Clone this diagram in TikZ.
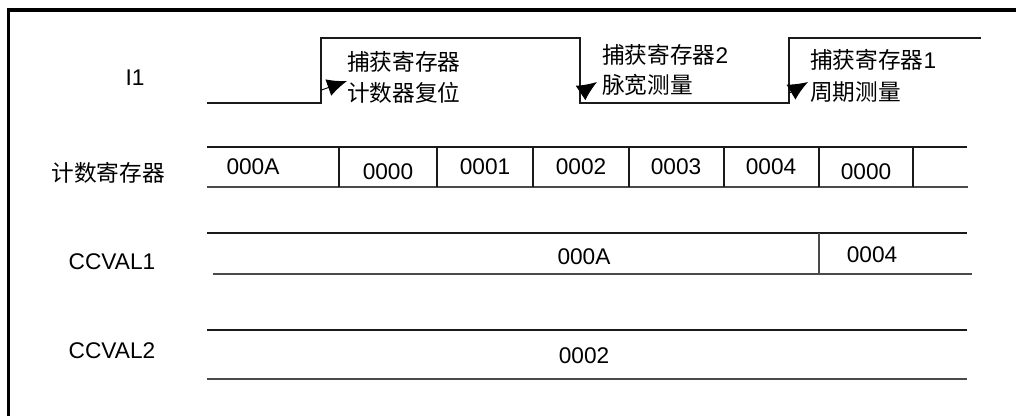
\documentclass[tikz,border=0pt]{standalone}
\usepackage{fontspec}
\setmainfont{Liberation Sans}
\newfontfamily\cjk{Noto Sans CJK SC}
\usetikzlibrary{arrows.meta}
\definecolor{capInk}{HTML}{1A1A1A}
\definecolor{capGray}{HTML}{4A4A4A}
\tikzset{
  cap frame/.style={draw=black, line width=2.3pt},
  cap wave/.style={draw=capInk, line width=0.9pt},
  cap rule/.style={draw=capInk, line width=0.9pt},
  cap bar/.style={draw=capGray, line width=1pt},
  cap pointer/.style={draw=black, line width=0.7pt, -{Latex[length=5.2mm, width=4.6mm]}},
  cap name/.style={font=\fontsize{17}{20}\selectfont, text=black, inner sep=0pt},
  cap value/.style={font=\fontsize{17}{20}\selectfont, text=black, inner sep=0pt},
  cap note/.style={font=\fontsize{17}{20}\selectfont, text=black, inner sep=0pt, anchor=west},
}

\begin{document}
\begin{tikzpicture}[x=0.75pt,y=-0.75pt]
  \useasboundingbox (0,0) rectangle (1016,416);
  % outer frame, only top and left edges are visible
  \draw[cap frame] (8.5,416) -- (8.5,10) -- (1016,10);

  % row titles
  \node[cap name] (i1) at (135,78) {I1};
  \node[cap name] (cnt) at (108,173) {\cjk 计数寄存器};
  \node[cap name] (cv1) at (112,262) {CCVAL1};
  \node[cap name] (cv2) at (112,351) {CCVAL2};

  % I1 waveform
  \draw[cap wave] (207,103) -- (321,103) -- (321,38) -- (580,38)
    -- (580,103) -- (789,103) -- (789,38) -- (981,38);

  % capture events on the edges
  \coordinate (e1) at (321.5,90);
  \coordinate (e2) at (580.5,93);
  \coordinate (e3) at (789.5,93);
  \coordinate (t1) at (347,81);
  \coordinate (t2) at (597,82);
  \coordinate (t3) at (808,82);
  \node[cap note] (n1a) at (347,62) {\cjk 捕获寄存器};
  \node[cap note] (n1b) at (347,93) {\cjk 计数器复位};
  \node[cap note] (n2a) at (602,55) {{\cjk 捕获寄存器}2};
  \node[cap note] (n2b) at (602,85) {\cjk 脉宽测量};
  \node[cap note] (n3a) at (810,60) {{\cjk 捕获寄存器}1};
  \node[cap note] (n3b) at (810,92) {\cjk 周期测量};
  \draw[cap pointer] (e1) -- (t1);
  \draw[cap pointer] (e2) -- (t2);
  \draw[cap pointer] (e3) -- (t3);

  % counter register row
  \draw[cap rule] (207,147) -- (967,147);
  \draw[cap bar] (207,187) -- (968,187);
  \foreach \x in {339,437,533,629,724,819,913}
    \draw[cap rule] (\x,147) -- (\x,187);
  \foreach \x/\y/\v [count=\i] in {253/167/000A, 388/172/0000, 485/167/0001,
      581/167/0002, 676/167/0003, 771/167/0004, 866/172/0000}
    \node[cap value] (c\i) at (\x,\y) {\v};

  % CCVAL1 row
  \draw[cap rule] (207,233) -- (967,233);
  \draw[cap bar] (213,274) -- (972,274);
  \draw[cap bar] (819,233) -- (819,274);
  \node[cap value] (v1a) at (584,257) {000A};
  \node[cap value] (v1b) at (872,255) {0004};

  % CCVAL2 row
  \draw[cap rule] (207,330) -- (967,330);
  \draw[cap bar] (207,379) -- (967,379);
  \node[cap value] (v2a) at (584,356) {0002};
\end{tikzpicture}
\end{document}
